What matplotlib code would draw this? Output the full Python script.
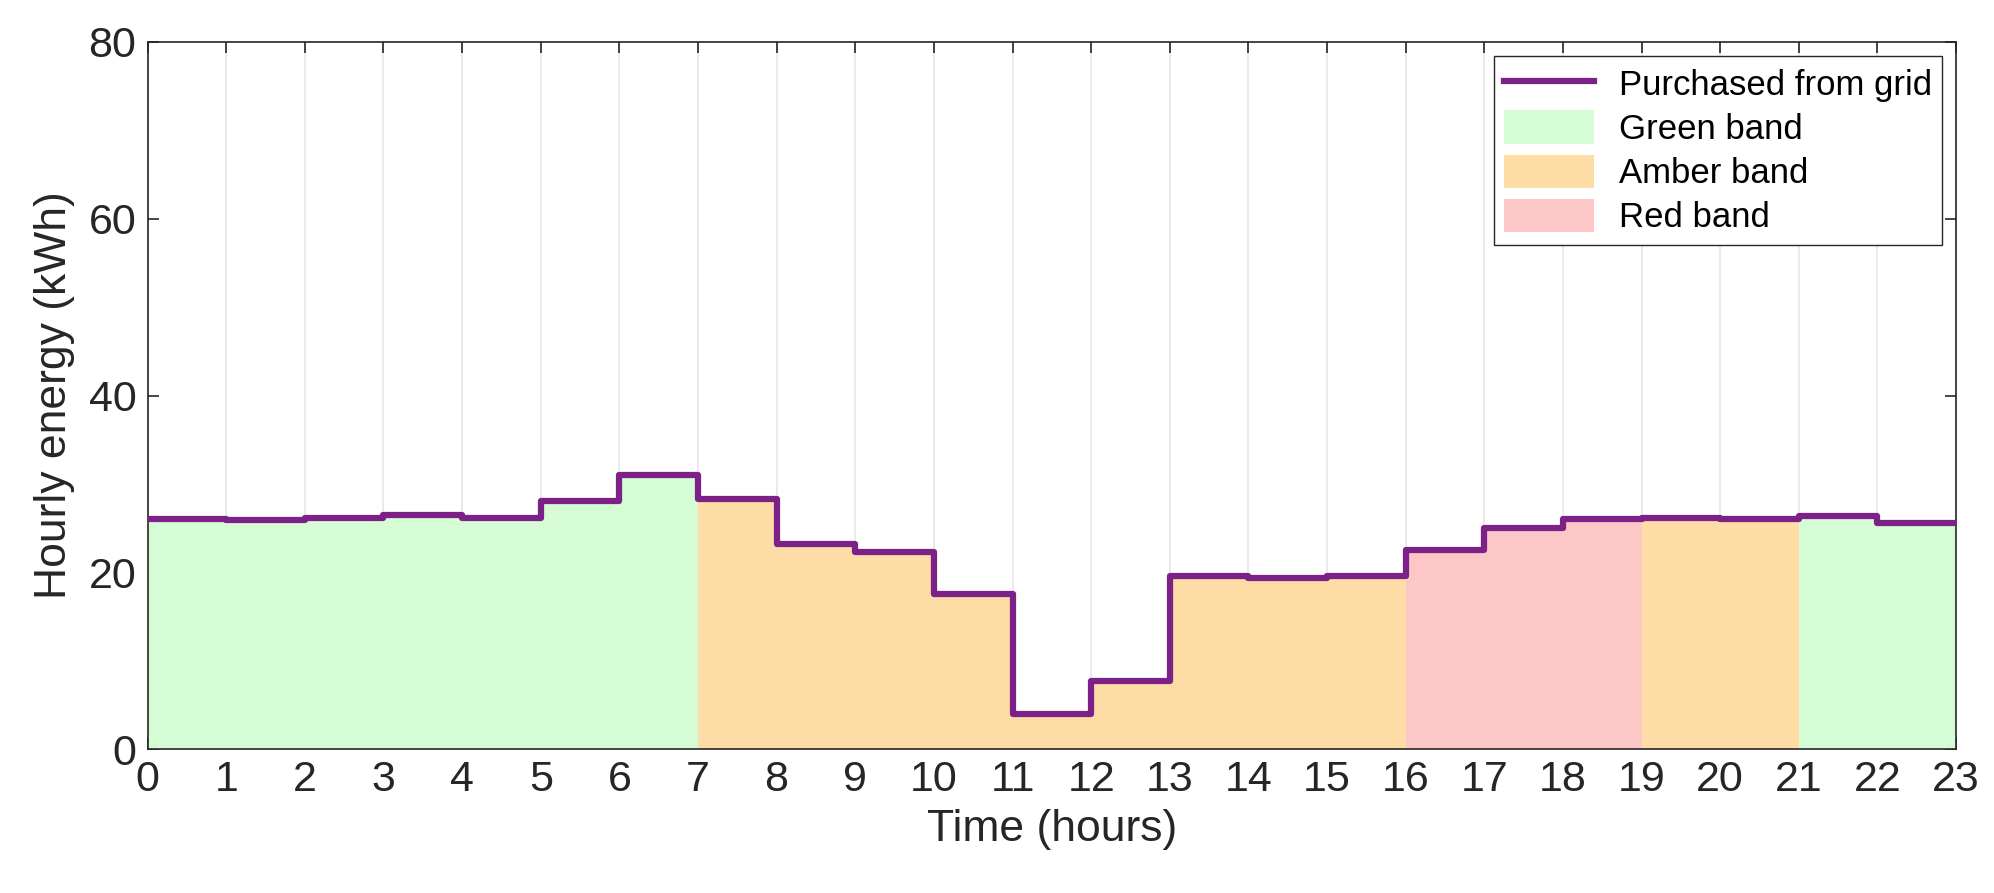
import matplotlib
matplotlib.use("Agg")
import matplotlib.pyplot as plt
import numpy as np
from matplotlib.patches import Patch
from matplotlib.lines import Line2D

plt.rcParams['font.family'] = ['Liberation Sans', 'DejaVu Sans']

# Hourly energy purchased from grid (kWh), hour 0..22 (each holds for one hour)
hours = list(range(23))
energy = [26.0, 25.9, 26.2, 26.5, 26.2, 28.1, 31.0, 28.3, 23.2, 22.3, 17.6, 4.0,
          7.7, 19.6, 19.4, 19.6, 22.5, 25.0, 26.0, 26.2, 26.0, 26.4, 25.6]

# Tariff bands: (start hour, end hour, band)
bands = [(0, 7, 'green'), (7, 16, 'amber'), (16, 19, 'red'),
         (19, 21, 'amber'), (21, 23, 'green')]
band_colors = {'green': '#d5fcd5', 'amber': '#fddca6', 'red': '#fec7c7'}

x_edges = np.array(hours + [23])
y_edges = np.array(energy + [energy[-1]])

fig = plt.figure(figsize=(19.94, 8.93), dpi=100)
ax = fig.add_axes([0.074, 0.161, 0.907, 0.792])

for start, end, band in bands:
    mask = (x_edges >= start) & (x_edges <= end)
    ax.fill_between(x_edges[mask], y_edges[mask], step='post',
                    color=band_colors[band], linewidth=0, zorder=1)

ax.step(x_edges, y_edges, where='post', color='#7b2188', linewidth=4.5, zorder=3)

ax.set_xlim(0, 23)
ax.set_ylim(0, 80)
ax.set_xticks(range(24))
ax.set_yticks([0, 20, 40, 60, 80])
ax.grid(axis='x', color='#e6e6e6', linewidth=1.2, zorder=0)
ax.set_axisbelow(True)
ax.tick_params(axis='both', direction='in', top=True, right=True, length=8,
               width=1.2, labelsize=31, colors='#262626', pad=8)
for s in ax.spines.values():
    s.set_color('#262626')
    s.set_linewidth(1.2)
ax.set_xlabel('Time (hours)', fontsize=32, color='#262626', labelpad=6)
ax.set_ylabel('Hourly energy (kWh)', fontsize=32, color='#262626', labelpad=10)

handles = [Line2D([0], [0], color='#7b2188', linewidth=4.5),
           Patch(facecolor=band_colors['green']),
           Patch(facecolor=band_colors['amber']),
           Patch(facecolor=band_colors['red'])]
labels = ['Purchased from grid', 'Green band', 'Amber band', 'Red band']
leg = ax.legend(handles, labels, loc='upper right', fontsize=25, fancybox=False,
                edgecolor='#262626', framealpha=1, borderaxespad=0.4,
                handlelength=2.6, handleheight=1.1, labelspacing=0.25,
                borderpad=0.3, handletextpad=0.7)
leg.get_frame().set_linewidth(1.0)

fig.savefig('out.png', dpi=100)
